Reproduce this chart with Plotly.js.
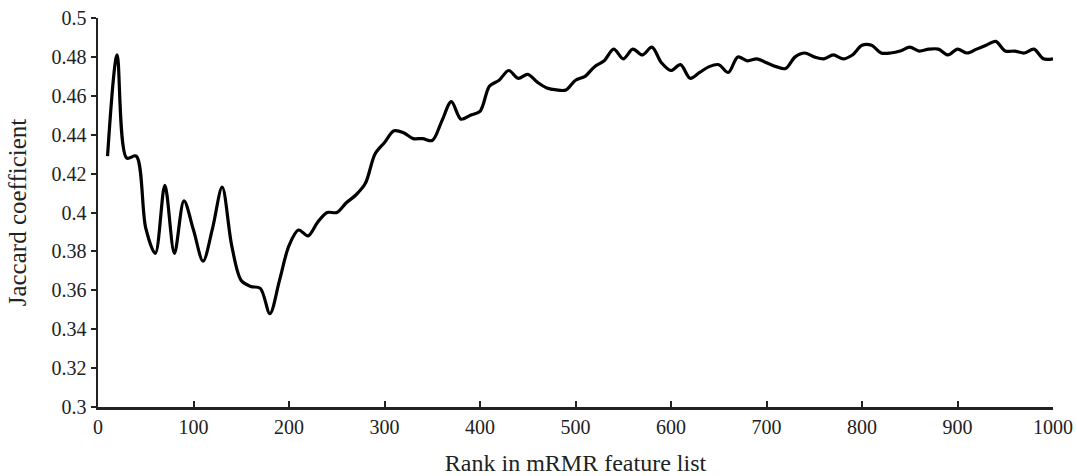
<!DOCTYPE html>
<html>
<head>
<meta charset="utf-8">
<script src="https://cdn.plot.ly/plotly-3.0.1.min.js"></script>
<style>
html,body{margin:0;padding:0;background:#fff;}
#chart{width:1077px;height:476px;}
</style>
</head>
<body>
<div id="chart"></div>
<script>
const rank = [10,20,30,40,50,60,70,80,90,100,110,120,130,140,150,160,170,180,190,200,
  210,220,230,240,250,260,270,280,290,300,310,320,330,340,350,360,370,380,390,400,
  410,420,430,440,450,460,470,480,490,500,510,520,530,540,550,560,570,580,590,600,
  610,620,630,640,650,660,670,680,690,700,710,720,730,740,750,760,770,780,790,800,
  810,820,830,840,850,860,870,880,890,900,910,920,930,940,950,960,970,980,990,1000];
const jaccard = [0.429,0.481,0.428,0.429,0.392,0.379,0.414,0.379,0.406,0.391,
  0.375,0.392,0.413,0.383,0.365,0.362,0.361,0.348,0.365,0.383,
  0.391,0.388,0.395,0.400,0.400,0.405,0.409,0.415,0.430,0.436,
  0.442,0.441,0.438,0.438,0.437,0.447,0.457,0.448,0.450,0.452,
  0.465,0.468,0.473,0.469,0.471,0.467,0.464,0.463,0.463,0.468,
  0.470,0.475,0.478,0.484,0.479,0.484,0.481,0.485,0.477,0.473,
  0.476,0.469,0.472,0.475,0.476,0.472,0.480,0.478,0.479,0.477,
  0.475,0.474,0.480,0.482,0.480,0.479,0.481,0.479,0.481,0.486,
  0.486,0.482,0.482,0.483,0.485,0.483,0.484,0.484,0.481,0.484,
  0.482,0.484,0.486,0.488,0.483,0.483,0.482,0.484,0.479,0.479];
const xTickVals = [0,100,200,300,400,500,600,700,800,900,1000];
const xTickText = ["0","100","200","300","400","500","600","700","800","900","1000"];
const yTickVals = [0.3,0.32,0.34,0.36,0.38,0.4,0.42,0.44,0.46,0.48,0.5];
const yTickText = ["0.3","0.32","0.34","0.36","0.38","0.4","0.42","0.44","0.46","0.48","0.5"];

const fam = '"Liberation Serif", "Times New Roman", serif';
const font = {family: fam, size: 20, color: '#222'};

Plotly.newPlot('chart', [{
  x: rank, y: jaccard, type: 'scatter', mode: 'lines',
  line: {color: '#000', width: 3.2, shape: 'spline', smoothing: 0.9}
}], {
  width: 1077, height: 476,
  margin: {l: 98, r: 24, t: 18, b: 69},
  paper_bgcolor: '#fff', plot_bgcolor: '#fff',
  showlegend: false,
  font: font,
  xaxis: {
    range: [0, 1000], tickvals: xTickVals, ticktext: xTickText,
    showgrid: false, zeroline: false, showline: true, linecolor: '#222', linewidth: 2.5,
    ticks: 'inside', ticklen: 6, tickwidth: 2, tickcolor: '#222',
    tickfont: font, automargin: false,
    title: {text: 'Rank in mRMR feature list', font: {family: fam, size: 24, color: '#222'}, standoff: 20}
  },
  yaxis: {
    range: [0.3, 0.5], tickvals: yTickVals, ticktext: yTickText,
    showgrid: false, zeroline: false, showline: true, linecolor: '#222', linewidth: 2.5,
    ticks: 'outside', ticklen: 5, tickwidth: 2, tickcolor: '#222',
    tickfont: font, automargin: false,
    title: {text: 'Jaccard coefficient', font: {family: fam, size: 25, color: '#222'}, standoff: 18}
  }
}, {displayModeBar: false, staticPlot: true});
</script>
</body>
</html>
